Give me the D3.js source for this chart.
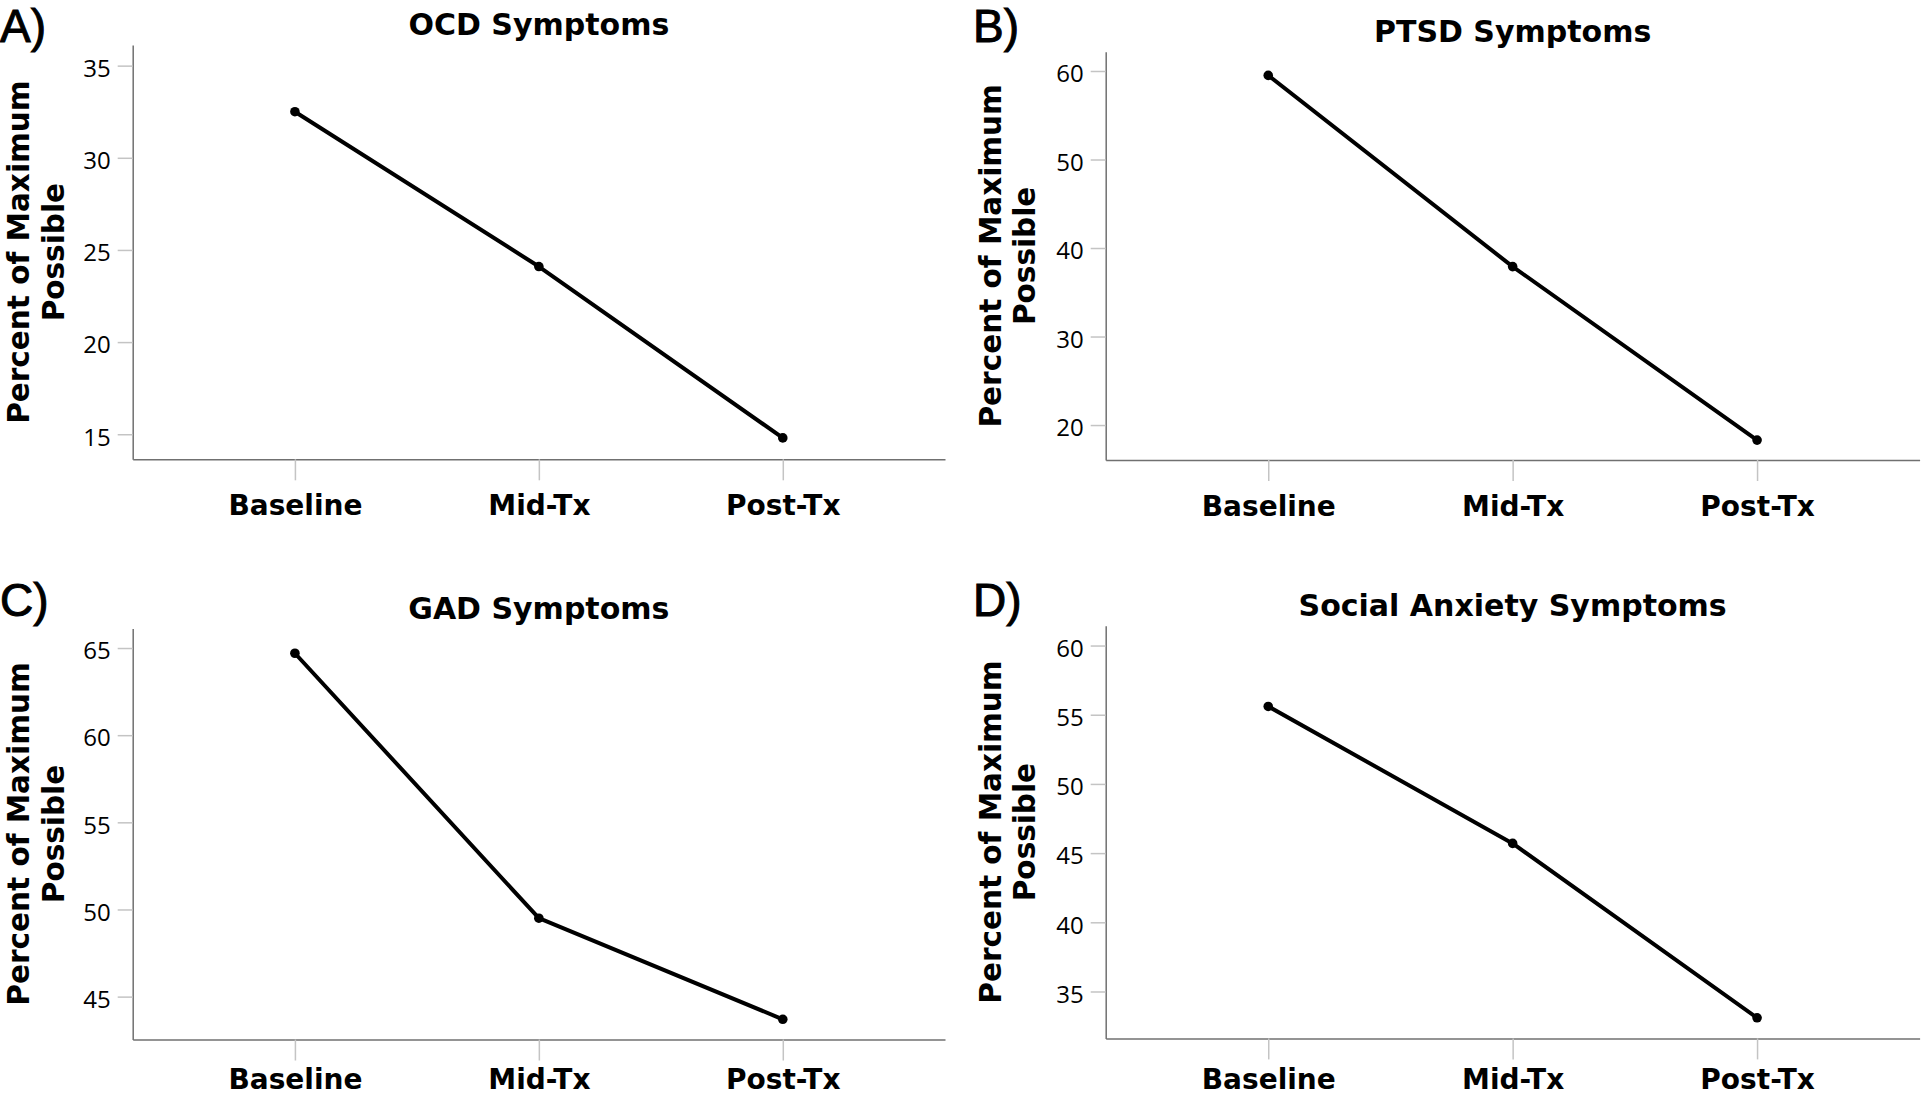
<!DOCTYPE html>
<html>
<head>
<meta charset="utf-8">
<script src="https://cdn.jsdelivr.net/npm/d3@7/dist/d3.min.js"></script>
<style>
  html, body { margin: 0; padding: 0; background: #ffffff; }
  svg { display: block; }
</style>
</head>
<body>
<svg id="chart" width="1922" height="1097"></svg>
<script>
// ---- data ----
const categories = ["Baseline", "Mid-Tx", "Post-Tx"];

const ocdValues    = [32.5, 24.1, 14.8];
const ptsdValues   = [59.5, 37.9, 18.3];
const gadValues    = [64.7, 49.5, 43.7];
const socialValues = [55.6, 45.7, 33.1];

const ocdTicks    = [15, 20, 25, 30, 35];
const ptsdTicks   = [20, 30, 40, 50, 60];
const gadTicks    = [45, 50, 55, 60, 65];
const socialTicks = [35, 40, 45, 50, 55, 60];

const ocdDomain    = [13.64, 36.12];
const ptsdDomain   = [16.05, 62.18];
const gadDomain    = [42.54, 66.12];
const socialDomain = [31.61, 61.43];

const panelTitles  = ["OCD Symptoms", "PTSD Symptoms", "GAD Symptoms", "Social Anxiety Symptoms"];
const panelLetters = ["A)", "B)", "C)", "D)"];
const yTitleLines  = ["Percent of Maximum", "Possible"];

// ---- layout (pixels) ----
const layouts = [
  { left: 132.7,  right: 945,    top: 45,     bottom: 459.3,  letterX: 0,   letterY: 42,  yt1: 28.5,  yt2: 63.5, xLab: 55.7 },
  { left: 1105.7, right: 1919.6, top: 51.7,   bottom: 460,    letterX: 973, letterY: 42,  yt1: 1001,  yt2: 1035, xLab: 55.7 },
  { left: 132.7,  right: 945,    top: 628.5,  bottom: 1039.5, letterX: 0,   letterY: 616, yt1: 28.5,  yt2: 63.5, xLab: 49.5 },
  { left: 1105.7, right: 1919.6, top: 625.75, bottom: 1038.4, letterX: 973, letterY: 616, yt1: 1001,  yt2: 1035, xLab: 50.5 }
];

const panels = [
  { values: ocdValues,    ticks: ocdTicks,    domain: ocdDomain },
  { values: ptsdValues,   ticks: ptsdTicks,   domain: ptsdDomain },
  { values: gadValues,    ticks: gadTicks,    domain: gadDomain },
  { values: socialValues, ticks: socialTicks, domain: socialDomain }
];

const svg = d3.select("#chart");
const BOLD = "'DejaVu Sans', Verdana, sans-serif";
const TICKFONT = "'Open Sans', 'Liberation Sans', Arial, sans-serif";

panels.forEach((p, i) => {
  const L = layouts[i];
  const g = svg.append("g");

  const x = d3.scalePoint().domain(categories).range([L.left, L.right]).padding(0.665);
  const y = d3.scaleLinear().domain(p.domain).range([L.bottom, L.top]);

  // y axis
  const yAx = g.append("g")
    .attr("transform", `translate(${L.left},0)`)
    .call(d3.axisLeft(y).tickValues(p.ticks).tickSize(15).tickSizeOuter(0).tickPadding(7).tickFormat(d3.format("d")));
  yAx.select(".domain").attr("stroke", "#707070").attr("stroke-width", 1.5);
  yAx.selectAll(".tick line").attr("stroke", "#c4c4c4").attr("stroke-width", 1.5);
  yAx.selectAll(".tick text")
    .attr("dy", "0.45em")
    .attr("fill", "#000")
    .style("font-family", TICKFONT)
    .style("font-size", "24px");

  // x axis
  const xAx = g.append("g")
    .attr("transform", `translate(0,${L.bottom})`)
    .call(d3.axisBottom(x).tickSize(21).tickSizeOuter(0));
  xAx.select(".domain").attr("stroke", "#707070").attr("stroke-width", 1.5);
  xAx.selectAll(".tick line").attr("stroke", "#c4c4c4").attr("stroke-width", 1.5);
  xAx.selectAll(".tick text")
    .attr("y", L.xLab)
    .attr("dy", null)
    .attr("fill", "#000")
    .style("font-family", BOLD)
    .style("font-weight", "bold")
    .style("font-size", "28px");

  // line
  const line = d3.line()
    .x((d, k) => x(categories[k]))
    .y(d => y(d));
  g.append("path")
    .datum(p.values)
    .attr("d", line)
    .attr("fill", "none")
    .attr("stroke", "#000")
    .attr("stroke-width", 4)
    .attr("stroke-linejoin", "round");

  g.selectAll("circle.pt")
    .data(p.values)
    .join("circle")
    .attr("class", "pt")
    .attr("cx", (d, k) => x(categories[k]))
    .attr("cy", d => y(d))
    .attr("r", 4.8)
    .attr("fill", "#000");

  // title
  g.append("text")
    .attr("x", (L.left + L.right) / 2)
    .attr("y", L.top - 10)
    .attr("text-anchor", "middle")
    .style("font-family", BOLD)
    .style("font-weight", "bold")
    .style("font-size", "30px")
    .text(panelTitles[i]);

  // panel letter
  g.append("text")
    .attr("x", L.letterX)
    .attr("y", L.letterY)
    .style("font-family", "'Liberation Sans', Arial, sans-serif")
    .style("font-size", "46px")
    .style("stroke", "#000")
    .style("stroke-width", 1)
    .text(panelLetters[i]);

  // y-axis title (two lines)
  const cy = (L.top + L.bottom) / 2;
  [L.yt1, L.yt2].forEach((bx, j) => {
    g.append("text")
      .attr("transform", `translate(${bx},${cy}) rotate(-90)`)
      .attr("text-anchor", "middle")
      .style("font-family", BOLD)
      .style("font-weight", "bold")
      .style("font-size", "29.5px")
      .text(yTitleLines[j]);
  });
});
</script>
</body>
</html>
